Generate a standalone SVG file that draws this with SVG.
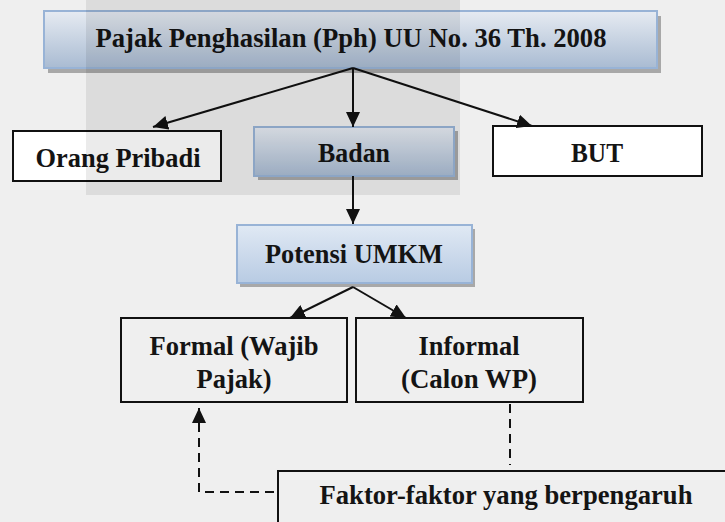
<svg xmlns="http://www.w3.org/2000/svg" width="725" height="522" viewBox="0 0 725 522">
<style>
  .lbl{font-family:"Liberation Serif","Times New Roman",serif;font-weight:bold;font-size:28px;fill:#141414;text-anchor:middle}
  .plain{fill:#fff;stroke:#111;stroke-width:2}
  .open{fill:none;stroke:#111;stroke-width:2}
  .blue{stroke:#98b3d6;stroke-width:2}
  .shadow{fill:#8a8a8a;opacity:0.7}
  .edge{stroke:#111;stroke-width:2;fill:none}
  .dash{stroke:#111;stroke-width:2;fill:none;stroke-dasharray:9 6}
</style>
<defs>
  <linearGradient id="gA" x1="0" y1="0" x2="0" y2="1">
    <stop offset="0" stop-color="#e6ebf2"/>
    <stop offset="1" stop-color="#a9bbd2"/>
  </linearGradient>
  <linearGradient id="gB" x1="0" y1="0" x2="0" y2="1">
    <stop offset="0" stop-color="#e0e9f4"/>
    <stop offset="1" stop-color="#b8cbe3"/>
  </linearGradient>
  <marker id="arr" markerUnits="userSpaceOnUse" markerWidth="16" markerHeight="14" refX="15" refY="7" orient="auto">
    <path d="M0,0 L15,7 L0,14 z" fill="#111"/>
  </marker>
</defs>
<rect x="0" y="0" width="725" height="522" fill="#efefef"/>

<g id="node-pph">
  <rect class="shadow" x="48" y="16" width="613" height="57"/>
  <rect class="blue" x="44" y="11" width="613" height="57" fill="url(#gA)"/>
  <text class="lbl" x="351" y="47" textLength="511" lengthAdjust="spacingAndGlyphs">Pajak Penghasilan (Pph) UU No. 36 Th. 2008</text>
</g>
<g id="node-orang-pribadi">
  <rect class="plain" x="13" y="131" width="208" height="50"/>
  <text class="lbl" x="118" y="167" textLength="165" lengthAdjust="spacingAndGlyphs">Orang Pribadi</text>
</g>
<g id="node-badan">
  <rect class="shadow" x="258" y="131" width="200" height="49"/>
  <rect class="blue" x="254" y="127" width="200" height="49" fill="url(#gA)"/>
  <text class="lbl" x="354" y="162" textLength="72" lengthAdjust="spacingAndGlyphs">Badan</text>
</g>
<g id="node-but">
  <rect class="plain" x="493" y="126" width="209" height="50"/>
  <text class="lbl" x="597" y="162" textLength="52" lengthAdjust="spacingAndGlyphs">BUT</text>
</g>
<g id="node-potensi">
  <rect class="shadow" x="240" y="229" width="235" height="58"/>
  <rect class="blue" x="237" y="225" width="235" height="58" fill="url(#gB)"/>
  <text class="lbl" x="354" y="263" textLength="178" lengthAdjust="spacingAndGlyphs">Potensi UMKM</text>
</g>
<g id="node-formal">
  <rect class="open" x="121" y="318" width="226" height="84"/>
  <text class="lbl" x="234" y="355" textLength="169" lengthAdjust="spacingAndGlyphs">Formal (Wajib</text>
  <text class="lbl" x="234" y="388" textLength="75" lengthAdjust="spacingAndGlyphs">Pajak)</text>
</g>
<g id="node-informal">
  <rect class="open" x="356" y="318" width="227" height="84"/>
  <text class="lbl" x="469" y="355" textLength="101" lengthAdjust="spacingAndGlyphs">Informal</text>
  <text class="lbl" x="469" y="388" textLength="136" lengthAdjust="spacingAndGlyphs">(Calon WP)</text>
</g>
<g id="node-faktor">
  <rect class="open" x="278" y="471" width="470" height="80"/>
  <text class="lbl" x="506" y="504" textLength="373" lengthAdjust="spacingAndGlyphs">Faktor-faktor yang berpengaruh</text>
</g>

<g id="connectors">
  <line class="edge" x1="353" y1="68" x2="153" y2="127" marker-end="url(#arr)"/>
  <line class="edge" x1="353" y1="68" x2="353" y2="127" marker-end="url(#arr)"/>
  <line class="edge" x1="353" y1="68" x2="532" y2="126" marker-end="url(#arr)"/>
  <line class="edge" x1="353" y1="176" x2="353" y2="224" marker-end="url(#arr)"/>
  <line class="edge" x1="353" y1="287" x2="290" y2="318" marker-end="url(#arr)"/>
  <line class="edge" x1="353" y1="287" x2="406" y2="318" marker-end="url(#arr)"/>
  <line class="dash" x1="510" y1="404" x2="510" y2="465"/>
  <polyline class="dash" points="274,492 199,492 199,408" marker-end="url(#arr)"/>
</g>

<rect x="86" y="0" width="374" height="195" fill="#000" opacity="0.08"/>
</svg>
